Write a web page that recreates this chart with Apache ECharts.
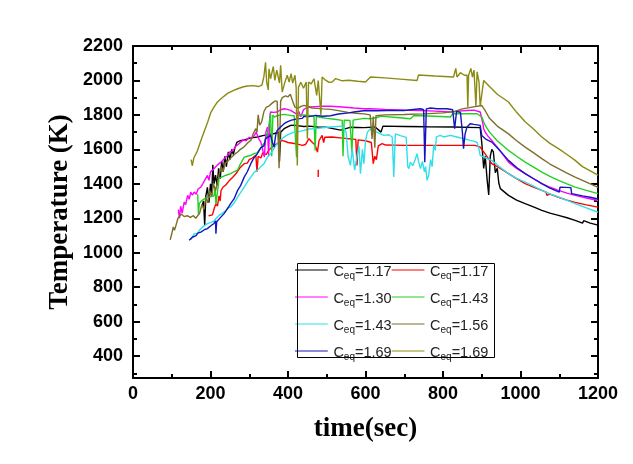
<!DOCTYPE html>
<html><head><meta charset="utf-8">
<script src="https://cdn.jsdelivr.net/npm/echarts@6/dist/echarts.min.js"></script>
<style>html,body{margin:0;padding:0;background:#fff}#c{width:633px;height:464px}</style>
</head><body><div id="c"></div>
<script>
// ---- data (time in s, temperature in K) ----
const seriesNames = ['Ceq=1.17 (a)','Ceq=1.17 (b)','Ceq=1.30','Ceq=1.43 (a)','Ceq=1.43 (b)','Ceq=1.56','Ceq=1.69 (a)','Ceq=1.69 (b)'];
const legendValues = ['1.17','1.17','1.30','1.43','1.43','1.56','1.69','1.69'];
const seriesColors = ['#000000','#ff0000','#ff00ff','#22d022','#2fe0ea','#7d7028','#1515c0','#8b8b14'];
const yTickLabels = [400,600,800,1000,1200,1400,1600,1800,2000,2200];
const yMinorTicks = [300,500,700,900,1100,1300,1500,1700,1900,2100];

const c117a = [[178,1270],[182,1300],[185,1160],[188,1330],[192,1380],[196,1290],[200,1400],[203,1330],[206,1510],[209,1400],[213,1450],[217,1390],[221,1490],[225,1430],[229,1530],[233,1470],[237,1560],[241,1500],[246,1585],[250,1540],[255,1600],[259,1570],[263,1610],[268,1640],[276,1650],[287,1655],[298,1662],[310,1668],[321,1672],[335,1680],[350,1686],[365,1692],[375,1700],[378,1530],[381,1700],[390,1720],[400,1732],[407,1739],[415,1740],[424,1738],[441,1733],[455,1735],[476,1730],[500,1728],[536,1712],[560,1728],[596,1726],[625,1730],[640,1700],[645,1735],[700,1733],[760,1731],[827,1730],[896,1726],[900,1640],[905,1490],[909,1560],[914,1420],[918,1335],[922,1560],[926,1600],[930,1585],[935,1465],[940,1490],[944,1405],[948,1372],[969,1333],[990,1305],[1012,1285],[1035,1265],[1055,1246],[1076,1230],[1098,1217],[1120,1203],[1141,1188],[1160,1172],[1163,1186],[1180,1172],[1200,1160]];

const c117b = [[195,1215],[200,1225],[205,1220],[210,1260],[214,1285],[218,1270],[222,1330],[225,1300],[227,1360],[232,1380],[236,1370],[240,1395],[244,1405],[249,1420],[254,1415],[258,1440],[261,1440],[266,1460],[270,1470],[275,1490],[280,1500],[287,1517],[295,1520],[300,1540],[308,1550],[317,1565],[320,1470],[323,1560],[330,1550],[335,1580],[344,1570],[350,1595],[355,1604],[362,1620],[372,1633],[385,1652],[400,1640],[420,1633],[437,1623],[445,1628],[454,1662],[463,1640],[470,1625],[476,1584],[480,1650],[488,1681],[492,1640],[495,1670],[514,1672],[540,1665],[557,1662],[575,1658],[578,1507],[581,1655],[600,1650],[615,1640],[620,1517],[624,1560],[628,1540],[633,1620],[643,1633],[652,1625],[700,1623],[760,1623],[830,1623],[883,1623],[896,1613],[910,1570],[926,1517],[948,1490],[969,1459],[990,1430],[1012,1401],[1035,1380],[1055,1362],[1066,1352],[1068,1333],[1076,1340],[1098,1322],[1120,1305],[1141,1292],[1170,1278],[1200,1265],[1200,'-'],[478,1482],[478,1440]];

const c130 = [[117,1250],[120,1200],[123,1270],[127,1230],[132,1294],[136,1280],[141,1333],[145,1310],[149,1352],[153,1335],[158,1352],[163,1340],[168,1370],[175,1381],[180,1400],[185,1390],[192,1449],[196,1420],[200,1470],[205,1460],[209,1488],[214,1480],[218,1510],[223,1505],[227,1526],[232,1530],[237,1550],[244,1565],[250,1585],[256,1590],[261,1604],[266,1620],[272,1630],[278,1642],[285,1655],[292,1650],[300,1670],[307,1665],[313,1681],[318,1700],[321,1710],[325,1660],[330,1642],[335,1650],[339,1555],[343,1700],[347,1730],[350,1560],[353,1790],[355,1817],[363,1815],[372,1817],[381,1830],[390,1836],[398,1832],[407,1826],[415,1815],[424,1803],[428,1820],[433,1790],[440,1830],[450,1846],[470,1848],[490,1850],[510,1850],[540,1846],[570,1840],[596,1836],[613,1836],[650,1832],[700,1828],[742,1826],[780,1822],[819,1817],[840,1822],[862,1826],[880,1828],[896,1817],[902,1759],[905,1720],[909,1700],[915,1680],[926,1652],[948,1590],[969,1526],[990,1490],[1012,1459],[1035,1428],[1055,1401],[1076,1380],[1098,1362],[1120,1346],[1141,1333],[1170,1318],[1200,1303]];

const c143a = [[167,1340],[169,1220],[171,1285],[176,1300],[182,1310],[190,1320],[200,1325],[209,1330],[212,1380],[214,1280],[217,1270],[220,1390],[222,1430],[230,1440],[240,1450],[252,1459],[260,1470],[270,1480],[276,1510],[280,1526],[287,1555],[295,1560],[304,1565],[312,1575],[320,1580],[330,1610],[340,1640],[348,1700],[352,1760],[355,1807],[358,1560],[361,1800],[364,1788],[372,1795],[381,1800],[390,1803],[398,1800],[407,1797],[416,1795],[420,1790],[422,1555],[425,1795],[433,1797],[441,1800],[450,1798],[460,1795],[467,1790],[470,1594],[473,1790],[485,1785],[500,1780],[520,1775],[540,1768],[542,1560],[545,1770],[560,1768],[565,1580],[568,1770],[596,1780],[613,1778],[630,1785],[639,1793],[680,1785],[716,1778],[725,1797],[780,1792],[819,1788],[825,1807],[860,1807],[888,1807],[900,1788],[909,1739],[920,1700],[940,1650],[969,1594],[990,1560],[1012,1526],[1035,1495],[1055,1468],[1076,1443],[1098,1420],[1120,1400],[1141,1381],[1170,1362],[1200,1343]];

const c143b = [[150,1075],[153,1090],[158,1111],[162,1120],[167,1112],[171,1130],[175,1140],[180,1150],[185,1145],[192,1169],[200,1175],[209,1185],[215,1200],[222,1217],[231,1230],[235,1227],[240,1245],[244,1260],[252,1265],[261,1290],[270,1323],[278,1350],[287,1381],[295,1410],[304,1439],[313,1468],[321,1478],[330,1500],[338,1517],[347,1555],[355,1575],[360,1590],[365,1610],[372,1633],[381,1655],[390,1672],[400,1685],[415,1700],[428,1703],[441,1710],[454,1718],[476,1722],[500,1728],[540,1735],[550,1700],[555,1560],[561,1507],[566,1600],[572,1480],[578,1560],[583,1620],[587,1459],[592,1600],[596,1517],[600,1650],[605,1700],[613,1720],[625,1705],[639,1690],[647,1681],[660,1685],[669,1672],[673,1440],[677,1690],[690,1680],[705,1670],[709,1500],[712,1488],[716,1526],[722,1505],[728,1540],[733,1575],[737,1530],[742,1488],[747,1530],[752,1470],[755,1500],[759,1420],[763,1449],[768,1540],[772,1500],[776,1623],[780,1594],[783,1672],[793,1681],[802,1672],[819,1681],[836,1672],[853,1662],[870,1652],[879,1648],[888,1640],[893,1600],[896,1565],[900,1575],[910,1550],[926,1536],[948,1495],[969,1459],[990,1432],[1012,1410],[1035,1385],[1055,1362],[1076,1342],[1098,1323],[1120,1304],[1141,1285],[1170,1260],[1200,1235]];

const c156 = [[96,1075],[100,1110],[104,1150],[107,1130],[111,1160],[116,1200],[124,1225],[132,1210],[140,1215],[148,1205],[156,1215],[162,1200],[167,1195],[172,1230],[178,1280],[183,1250],[188,1320],[193,1290],[198,1360],[203,1330],[208,1400],[213,1360],[218,1410],[222,1450],[227,1500],[232,1470],[238,1520],[244,1530],[250,1545],[257,1560],[264,1575],[270,1585],[277,1600],[284,1610],[291,1625],[297,1640],[304,1652],[310,1690],[317,1720],[320,1700],[323,1800],[327,1740],[332,1760],[338,1820],[344,1845],[350,1850],[355,1850],[360,1870],[366,1880],[372,1880],[377,1490],[381,1880],[385,1900],[394,1910],[400,1905],[406,1920],[412,1880],[418,1845],[426,1840],[434,1850],[441,1855],[450,1850],[462,1840],[475,1838],[490,1835],[510,1832],[530,1825],[555,1815],[575,1810],[596,1806],[612,1800],[617,1660],[620,1790],[624,1610],[627,1795],[650,1800],[700,1802],[750,1806],[800,1812],[830,1820],[850,1835],[875,1845],[900,1855],[910,1820],[920,1780],[940,1735],[969,1690],[990,1650],[1012,1613],[1035,1578],[1055,1546],[1076,1515],[1098,1488],[1120,1462],[1141,1439],[1160,1420],[1180,1400],[1200,1380]];

const c169a = [[145,1072],[149,1075],[153,1090],[158,1091],[163,1100],[167,1114],[175,1120],[185,1135],[192,1140],[200,1155],[209,1170],[213,1185],[214,1110],[216,1180],[222,1195],[227,1198],[235,1227],[244,1256],[252,1285],[261,1314],[270,1362],[278,1391],[287,1439],[295,1470],[304,1517],[313,1555],[321,1575],[330,1610],[338,1620],[342,1662],[347,1660],[355,1681],[360,1640],[364,1613],[368,1680],[372,1710],[381,1730],[390,1749],[398,1760],[407,1768],[415,1773],[424,1778],[437,1780],[441,1792],[454,1790],[458,1797],[471,1797],[490,1792],[510,1795],[530,1805],[557,1812],[570,1817],[600,1826],[630,1824],[656,1826],[699,1826],[742,1836],[750,1830],[753,1526],[757,1835],[768,1840],[785,1836],[810,1836],[825,1830],[830,1720],[835,1820],[845,1815],[850,1700],[853,1604],[857,1690],[862,1730],[870,1749],[880,1745],[896,1739],[900,1681],[910,1660],[926,1642],[948,1590],[969,1536],[990,1495],[1012,1459],[1035,1428],[1055,1401],[1076,1375],[1100,1352],[1102,1381],[1130,1378],[1132,1343],[1160,1330],[1180,1322],[1200,1312]];

const c169b = [[150,1540],[153,1505],[157,1550],[166,1590],[175,1650],[184,1705],[193,1760],[201,1815],[210,1850],[218,1875],[230,1900],[244,1925],[257,1940],[270,1952],[283,1962],[295,1968],[310,1970],[325,1965],[333,1975],[338,2025],[342,2105],[345,1990],[349,1945],[351,2068],[355,2010],[362,2080],[366,2000],[371,2060],[378,1985],[381,2088],[385,1933],[392,1990],[398,2030],[403,1991],[408,2040],[412,1985],[418,2030],[421,1960],[424,1507],[427,1960],[433,1990],[440,1955],[447,1991],[450,1662],[453,1990],[460,1980],[467,2010],[471,2020],[474,1913],[478,2000],[485,1800],[488,2020],[495,2005],[505,1990],[514,1991],[523,2011],[540,1998],[557,2001],[580,1995],[600,1991],[613,2020],[650,2015],[690,2008],[733,2000],[737,2032],[780,2026],[827,2020],[833,2070],[836,2020],[845,2045],[855,2030],[862,2030],[864,1845],[866,2030],[872,2070],[876,2020],[880,2060],[885,1850],[888,2050],[893,1990],[896,1850],[900,1840],[905,2000],[920,1965],[940,1920],[969,1875],[990,1815],[1012,1760],[1035,1715],[1055,1672],[1076,1635],[1098,1604],[1120,1570],[1141,1536],[1160,1500],[1180,1475],[1200,1450]];

const allData = [c117a, c117b, c130, c143a, c143b, c156, c169a, c169b];

// ---- chart ----
const chart = echarts.init(document.getElementById('c'), null, {renderer: 'canvas'});
const black = '#000';
const labelFont = {fontFamily: 'Liberation Sans', fontWeight: 'bold', fontSize: 18, color: black};
const titleFont = {fontFamily: 'Liberation Serif', fontWeight: 'bold', fontSize: 27, color: black};
const lineStyle = {color: black, width: 2};
const plain = v => String(v);

function xAx(pos, showLabel) {
  return {
    type: 'value', position: pos, min: 0, max: 1200, interval: 200,
    name: showLabel ? 'time(sec)' : '', nameLocation: 'middle', nameGap: 38, nameTextStyle: titleFont,
    nameMoveOverlap: false,
    axisLine: {show: true, onZero: false, lineStyle: lineStyle},
    axisTick: {show: true, inside: true, length: 7, lineStyle: lineStyle},
    minorTick: {show: true, splitNumber: 2, length: 4, lineStyle: lineStyle},
    axisLabel: Object.assign({show: showLabel, margin: 7, formatter: plain}, labelFont),
    splitLine: {show: false}, minorSplitLine: {show: false}
  };
}
function yAx(pos, showLabel, major) {
  return {
    type: 'value', position: pos, min: 273, max: 2200,
    name: (showLabel && major) ? 'Temperature (K)' : '', nameLocation: 'middle', nameGap: 59, nameTextStyle: titleFont,
    nameMoveOverlap: false,
    axisLine: {show: major, onZero: false, lineStyle: lineStyle},
    axisTick: {show: true, inside: true, length: major ? 7 : 4, lineStyle: lineStyle,
               customValues: major ? yTickLabels : yMinorTicks},
    axisLabel: Object.assign({show: showLabel, margin: 10, customValues: yTickLabels, formatter: plain}, labelFont),
    splitLine: {show: false}
  };
}

const series = allData.map((d, i) => ({
  name: seriesNames[i], type: 'line', data: d, xAxisIndex: 0, yAxisIndex: 0,
  symbol: 'none', connectNulls: false,
  lineStyle: {color: seriesColors[i], width: 1.4}, itemStyle: {color: seriesColors[i]},
  emphasis: {disabled: true}
}));

// legend icon: a thin horizontal line in a tall box (tiny invisible corner marks set the box height)
const lineIcon = 'path://M0,0h0.01v0.01h-0.01z M0,13.5h34v1h-34z M0,28h0.01v0.01h-0.01z';
const txt = {fontFamily: 'Liberation Sans', color: '#222'};
chart.setOption({
  animation: false,
  backgroundColor: '#fff',
  grid: {left: 133, right: 35, top: 46, bottom: 86},
  xAxis: [xAx('bottom', true), xAx('top', false)],
  yAxis: [yAx('left', true, true), yAx('left', false, false), yAx('right', false, true), yAx('right', false, false)],
  legend: {
    data: seriesNames.map(n => ({name: n, icon: lineIcon})),
    left: 295, top: 256.5, width: 200, orient: 'horizontal',
    itemGap: 0, itemWidth: 34, itemHeight: 27, padding: 0, selectedMode: false,
    formatter: function (name) {
      const i = seriesNames.indexOf(name);
      return '{c|C}{s|eq}{n|=' + legendValues[i] + '}';
    },
    textStyle: {
      rich: {
        c: Object.assign({fontSize: 14.5, padding: [3, 0, 0, 0]}, txt),
        s: Object.assign({fontSize: 10, padding: [13, 0, 0, 0]}, txt),
        n: Object.assign({fontSize: 14.5, padding: [3, 0, 0, 0]}, txt)
      }
    }
  },
  graphic: [{type: 'rect', left: 295, top: 261, shape: {width: 197, height: 94}, style: {fill: 'none', stroke: '#000', lineWidth: 1}, silent: true, z: 100}],
  series: series
});
</script></body></html>
